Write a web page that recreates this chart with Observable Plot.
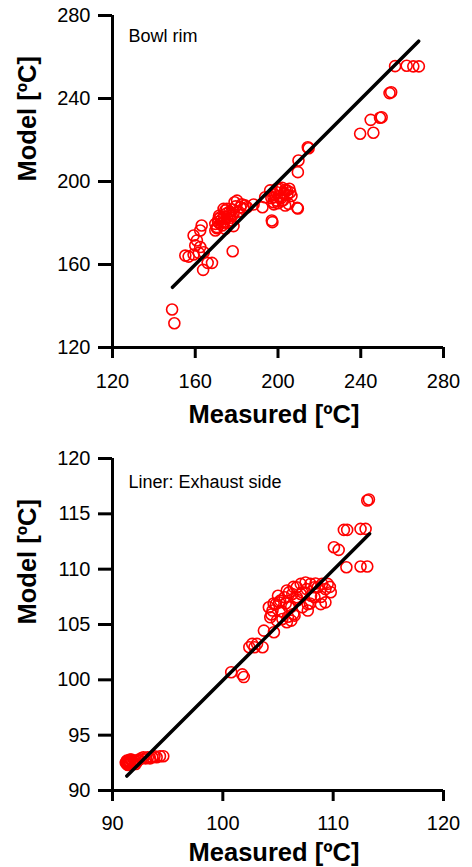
<!DOCTYPE html>
<html>
<head>
<meta charset="utf-8">
<script src="https://cdn.jsdelivr.net/npm/d3@7"></script>
<script src="https://cdn.jsdelivr.net/npm/@observablehq/plot@0.6"></script>
<style>
  html, body { margin: 0; padding: 0; background: white; }
  svg { display: block; }
</style>
</head>
<body>
<div id="chart"></div>
<script>
// ---- Panel 1: Bowl rim ----
const rimTitle = "Bowl rim";
const rimTicks = [120, 160, 200, 240, 280];
const rimMeasured = [
  148.8, 149.9,
  155.2, 156.8, 159.2, 161.7, 164.1, 159.2, 160.8, 160.0, 162.4, 162.4, 163.1,
  163.8, 166.0, 168.1, 178.1,
  169.7, 170.5, 172.1, 171.3, 173.7, 175.3, 173.7, 175.3, 176.9, 178.5, 180.2, 181.8, 183.4, 185.0,
  169.7, 172.1, 176.9, 178.5, 174.5, 177.7,
  171.0, 172.5, 174.0, 175.0, 176.5, 178.0, 179.5, 177.0, 170.5, 173.0, 175.5, 181.0, 182.5, 184.0, 179.0, 171.5, 174.5,
  188.2, 192.5, 193.8, 197.0, 197.3,
  196.2, 197.8, 199.4, 201.1, 202.7, 204.3, 205.9, 201.9, 199.4, 197.8, 203.5, 205.1,
  198.5, 199.5, 200.5, 201.5, 202.0, 203.5, 204.5, 205.5, 200.0, 202.5, 198.0, 206.5, 203.0, 196.8,
  209.3, 209.6, 209.6, 209.9, 214.4, 214.8,
  239.7, 246.1, 244.8, 249.3, 250.1, 253.9, 254.7, 256.6, 262.2, 265.4, 268.1
];
const rimModel = [
  138.3, 131.7,
  164.3, 163.8, 164.8, 165.6, 165.9, 174.0, 171.6, 169.2, 168.4, 176.4, 178.8,
  157.4, 160.8, 160.8, 166.4,
  176.4, 178.0, 179.6, 182.0, 180.4, 182.8, 186.8, 186.8, 181.2, 184.4, 190.8, 187.6, 186.8, 187.6,
  179.6, 182.8, 184.4, 178.5, 177.2, 183.5,
  180.5, 181.5, 183.0, 184.5, 185.5, 186.5, 188.0, 182.5, 177.5, 178.8, 180.0, 185.5, 189.0, 188.5, 190.0, 183.5, 186.0,
  188.9, 187.6, 192.4, 181.2, 180.4,
  195.7, 192.4, 194.8, 196.4, 194.1, 195.7, 194.8, 190.8, 190.8, 190.0, 188.4, 189.2,
  193.5, 196.5, 193.0, 192.0, 197.0, 196.0, 193.5, 196.5, 189.5, 191.0, 189.0, 193.0, 194.5, 192.0,
  187.3, 187.0, 204.5, 210.1, 216.5, 216.0,
  223.0, 223.5, 229.7, 230.7, 231.0, 242.6, 243.0, 255.6, 255.8, 255.5, 255.5
];
const rimFitX = [149, 268];
const rimFitY = [149, 267.6];

// ---- Panel 2: Liner: Exhaust side ----
const linerTitle = "Liner: Exhaust side";
const linerYTicks = [90, 95, 100, 105, 110, 115, 120];
const linerXTicks = [90, 100, 110, 120];
const linerMeasured = [
  91.3, 91.4, 91.5, 91.6, 91.8, 92.0, 92.2, 92.4, 92.6, 92.8, 93.0, 93.2, 93.4, 93.6, 93.8, 94.0, 94.3, 94.6, 91.4, 91.7, 92.1,
  91.2, 91.3, 91.5, 91.6, 91.9, 92.3, 91.25,
  100.76, 101.76, 101.9,
  102.66, 102.87, 103.1, 103.6, 102.4, 103.72, 104.63,
  104.17, 104.5, 104.9, 105.4, 105.8, 106.2, 105.2, 105.6, 106.3, 106.7, 107.06, 107.5, 107.95, 108.6, 109.0, 109.5, 109.78, 109.3,
  108.88, 108.3, 107.7, 107.2, 106.7, 106.0, 105.8, 107.06, 108.3, 104.8, 104.3, 106.4, 107.7,
  104.6, 105.0, 105.3, 105.7, 106.0, 106.4, 106.8, 107.2, 107.6, 108.0, 108.4, 108.9, 109.3, 106.5, 105.9, 104.4, 107.9, 109.7, 105.1, 106.2,
  110.07, 110.5, 111.2, 110.97, 111.27, 112.48, 112.94, 112.48, 113.09, 113.24, 113.09
];
const linerModel = [
  92.4, 92.6, 92.7, 92.5, 92.6, 92.7, 92.6, 92.8, 92.9, 93.0, 92.9, 93.0, 92.9, 93.0, 93.1, 93.0, 93.1, 93.1, 92.3, 92.8, 92.4,
  92.5, 92.7, 92.4, 92.8, 92.5, 92.7, 92.6,
  100.69, 100.49, 100.25,
  103.25, 102.95, 103.25, 102.95, 102.95, 104.45, 104.3,
  106.56, 106.26, 105.35, 105.5, 105.2, 105.35, 107.16, 107.46, 107.76, 108.37, 108.67, 108.8, 108.67, 108.37, 108.67, 108.67, 107.92, 108.2,
  106.84, 107.46, 106.84, 106.56, 107.46, 106.56, 108.07, 107.76, 108.37, 106.84, 105.65, 105.95, 106.26,
  106.9, 107.6, 106.2, 106.9, 107.9, 108.4, 107.2, 107.9, 108.2, 107.6, 108.7, 107.5, 107.0, 105.8, 105.7, 105.9, 106.9, 108.4, 107.0, 106.6,
  111.98, 111.74, 110.17, 113.55, 113.55, 113.64, 113.64, 110.24, 110.24, 116.3, 116.2
];
const linerFitX = [91.3, 113.3];
const linerFitY = [91.3, 113.2];

const xTitle = "Measured [ºC]";
const yTitle = "Model [ºC]";

function panel({title, measured, model, fitX, fitY, domain, xTicks, yTicks, height, marginTop, marginBottom, titleDy, xTitleDy, xTickPadding}) {
  const pts = measured.map((m, i) => ({m, v: model[i]}));
  const fit = fitX.map((x, i) => ({x, y: fitY[i]}));
  return Plot.plot({
    width: 472,
    height,
    marginLeft: 112,
    marginRight: 29,
    marginTop,
    marginBottom,
    x: {domain},
    y: {domain},
    style: {fontFamily: "'Liberation Sans', Arial, sans-serif", color: "black", background: "white", overflow: "visible"},
    marks: [
      Plot.axisX(xTicks, {anchor: "bottom", tickSize: 11, tickPadding: xTickPadding, fontSize: 20, strokeWidth: 3, label: null}),
      Plot.axisY(yTicks, {anchor: "left", tickSize: 14, tickPadding: 8, fontSize: 20, strokeWidth: 3, label: null}),
      Plot.ruleY([domain[0]], {stroke: "black", strokeWidth: 3}),
      Plot.ruleX([domain[0]], {stroke: "black", strokeWidth: 3}),
      Plot.dot(pts, {x: "m", y: "v", r: 5.5, stroke: "#ff0000", strokeWidth: 1.6, fill: "none"}),
      Plot.line(fit, {x: "x", y: "y", stroke: "black", strokeWidth: 3.5}),
      Plot.text([title], {text: d => d, frameAnchor: "top-left", textAnchor: "start", lineAnchor: "top", dx: 16, dy: titleDy, fontSize: 18}),
      Plot.text([xTitle], {text: d => d, frameAnchor: "bottom", textAnchor: "middle", lineAnchor: "bottom", dx: -4, dy: xTitleDy, fontSize: 25.5, fontWeight: "bold"}),
      Plot.text([yTitle], {text: d => d, frameAnchor: "left", rotate: -90, dx: -85, fontSize: 25.5, fontWeight: "bold"})
    ]
  });
}

const root = document.getElementById("chart");
root.appendChild(panel({
  title: rimTitle, measured: rimMeasured, model: rimModel, fitX: rimFitX, fitY: rimFitY,
  domain: [120, 280], xTicks: rimTicks, yTicks: rimTicks,
  height: 430, marginTop: 15, marginBottom: 83, titleDy: 14, xTitleDy: 75, xTickPadding: 15
}));
root.appendChild(panel({
  title: linerTitle, measured: linerMeasured, model: linerModel, fitX: linerFitX, fitY: linerFitY,
  domain: [90, 120], xTicks: linerXTicks, yTicks: linerYTicks,
  height: 437, marginTop: 28, marginBottom: 77, titleDy: 17, xTitleDy: 70, xTickPadding: 14
}));
</script>
</body>
</html>
